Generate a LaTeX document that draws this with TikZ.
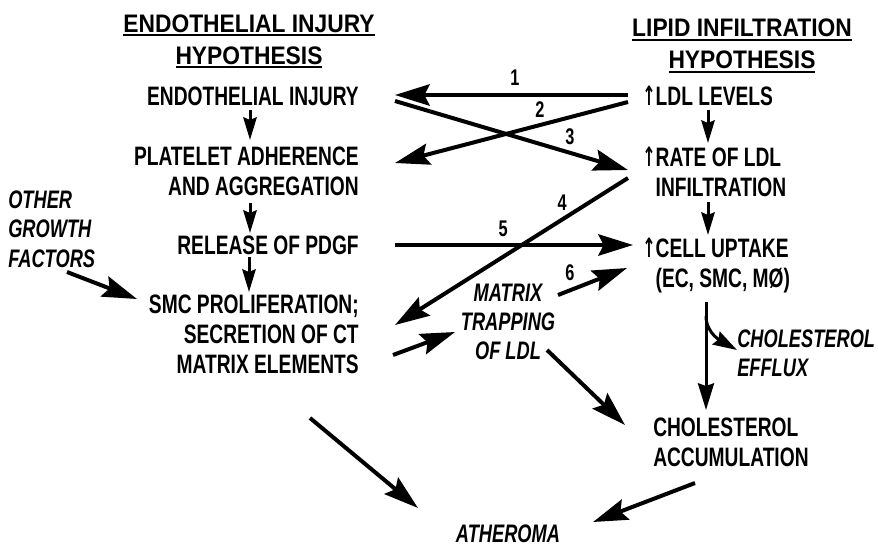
\documentclass[tikz,border=0pt]{standalone}
\usepackage{fontspec}
\setmainfont{Liberation Sans}[FakeStretch=0.72]
\newfontfamily\headfont{Liberation Sans}[FakeStretch=0.9]
\newfontfamily\slantfont{Liberation Sans}[FakeStretch=0.72]
\newfontfamily\arrowfont{DejaVu Sans}[FakeStretch=0.6]
\usepackage{tikz}
\usetikzlibrary{arrows.meta}
\newcommand\up{\smash{\arrowfont\bfseries ↑}}
\newcommand\hdline[1]{\setbox0\hbox{#1}\rlap{\rule[-3pt]{\wd0}{1.5pt}}\box0}

\begin{document}
\begin{tikzpicture}[x=0.75pt, y=-0.75pt, >=Stealth,
  txt/.style={font=\bfseries\fontsize{20}{22.5}\selectfont, inner sep=0pt},
  lbl/.style={font=\slantfont\bfseries\itshape\fontsize{19}{22}\selectfont, inner sep=0pt},
  hyptitle/.style={font=\headfont\bfseries\fontsize{19}{24}\selectfont, inner sep=0pt, align=center},
  numlbl/.style={font=\bfseries\fontsize{17}{17}\selectfont, inner sep=0pt},
  bigarrow/.style={line width=3pt, -{Stealth[length=26pt, width=16pt, inset=4pt]}},
  downarrow/.style={line width=2.25pt, -{Stealth[length=17pt, width=10pt, inset=2pt]}}]
  \useasboundingbox (0,0) rectangle (878,547);
  % Titles
  \node[hyptitle] (lhyp) at (249,41.5) {\hdline{ENDOTHELIAL INJURY}\\\hdline{HYPOTHESIS}};
  \node[hyptitle] (rhyp) at (742,46) {\hdline{LIPID INFILTRATION}\\\hdline{HYPOTHESIS}};
  % Endothelial injury side
  \node[txt, anchor=east] (endo) at (359,96) {ENDOTHELIAL INJURY};
  \node[txt, anchor=east, align=right] (plat) at (359,171) {PLATELET ADHERENCE\\AND AGGREGATION};
  \node[txt, anchor=east] (pdgf) at (359,245) {RELEASE OF PDGF};
  \node[txt, anchor=east, align=right] (smc) at (359,334) {SMC PROLIFERATION;\\SECRETION OF CT\\MATRIX ELEMENTS};
  \node[lbl, anchor=west, align=left] (other) at (8,229) {OTHER\\GROWTH\\FACTORS};
  % Lipid infiltration side
  \node[txt, anchor=west] (ldl) at (642,96) {\up LDL LEVELS};
  \node[txt, anchor=west, align=left] (rate) at (642,172) {\up RATE OF LDL\\\hphantom{\up}INFILTRATION};
  \node[txt, anchor=west, align=left] (cell) at (642,266) {\up CELL UPTAKE\\\hphantom{\up}(EC, SMC, MØ)};
  \node[lbl, anchor=west, align=left] (effl) at (737,353) {CHOLESTEROL\\EFFLUX};
  \node[txt, anchor=west, align=left] (chol) at (653,442) {CHOLESTEROL\\ACCUMULATION};
  \node[lbl, align=center] (trap) at (508,322) {MATRIX\\TRAPPING\\OF LDL};
  \node[lbl] (ather) at (508,534) {ATHEROMA};
  % Steps down each column
  \draw[downarrow] ([shift={(-109,14)}]endo.east) -- ([shift={(-109,-31)}]plat.east);
  \draw[downarrow] ([shift={(-109,32)}]plat.east) -- ([shift={(-109,-12)}]pdgf.east);
  \draw[downarrow] ([shift={(-110,12)}]pdgf.east) -- ([shift={(-110,-42)}]smc.east);
  \draw[downarrow] ([shift={(66,14)}]ldl.west) -- ([shift={(66,-29)}]rate.west);
  \draw[downarrow] ([shift={(66,30)}]rate.west) -- ([shift={(66,-31)}]cell.west);
  \draw[line width=2.25pt, -{Stealth[length=20pt, width=12pt, inset=2pt]}]
    ([shift={(64,36)}]cell.west) -- ([shift={(53,-32)}]chol.west);
  \draw[line width=2.25pt, -{Stealth[length=18pt, width=11pt, inset=2pt]}]
    ([shift={(64,50)}]cell.west) .. controls +(0,18) and +(-14,-8) .. ([shift={(0,-3)}]effl.west);
  % Numbered links between the hypotheses
  \draw[bigarrow] ([shift={(-14,-1)}]ldl.west) -- node[numlbl, pos=.485, above=6pt] (n1) {1} ([shift={(36,-1)}]endo.east);
  \draw[bigarrow] ([shift={(-14,6)}]ldl.west) -- node[numlbl, pos=.378, above=4.5pt] (n2) {2} ([shift={(36,-8)}]plat.east);
  \draw[bigarrow] ([shift={(36,5)}]endo.east) -- node[numlbl, pos=.751, above=4.5pt] (n3) {3} ([shift={(-14,-2)}]rate.west);
  \draw[bigarrow] ([shift={(-14,6)}]rate.west) -- node[numlbl, pos=.283, above=5.5pt] (n4) {4} ([shift={(36,-9)}]smc.east);
  \draw[bigarrow] ([shift={(36,0)}]pdgf.east) -- node[numlbl, pos=.454, above=4.5pt] (n5) {5} ([shift={(-9,-21)}]cell.west);
  \draw[bigarrow] ([shift={(50,-27)}]trap.center) -- node[numlbl, pos=.174, above=6pt] (n6) {6} ([shift={(-15,2)}]cell.west);
  % Other links
  \draw[bigarrow] ([shift={(34,21)}]smc.east) -- ([shift={(-53,10)}]trap.center);
  \draw[bigarrow] ([shift={(59,43)}]other.west) -- ([shift={(-222,-35)}]smc.east);
  \draw[bigarrow] ([shift={(39,28)}]trap.center) -- ([shift={(-28,-17)}]chol.west);
  \draw[bigarrow] ([shift={(-49,84)}]smc.east) -- ([shift={(-90,-26)}]ather.center);
  \draw[bigarrow] ([shift={(42,41)}]chol.west) -- ([shift={(85,-12)}]ather.center);
\end{tikzpicture}
\end{document}
